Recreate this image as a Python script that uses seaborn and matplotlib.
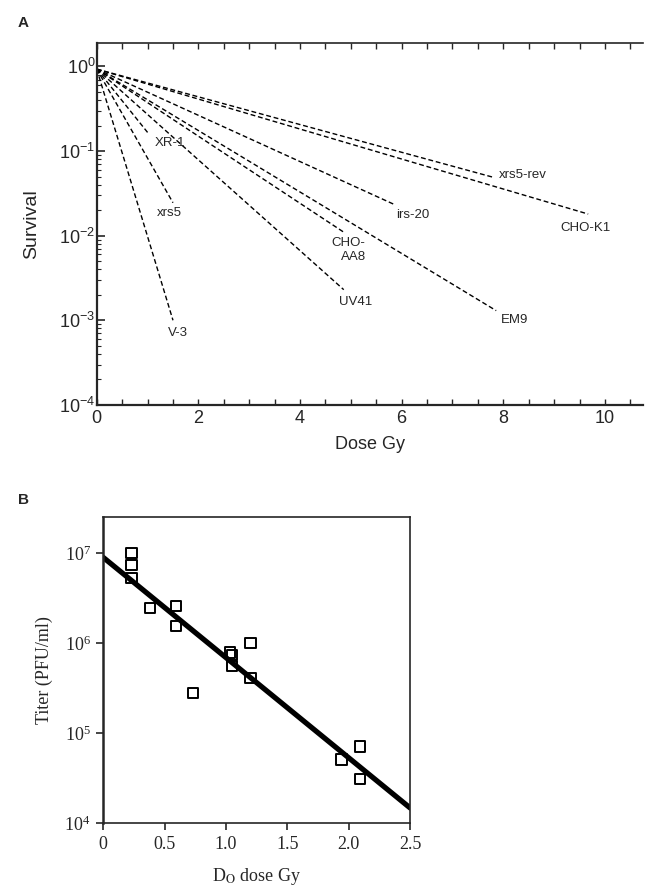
import numpy as np
import pandas as pd
import matplotlib
matplotlib.use('Agg')
import matplotlib.pyplot as plt
import seaborn as sns
from matplotlib.ticker import MultipleLocator, LogLocator, NullFormatter

sns.set_style('ticks')
plt.rcParams['font.family'] = ['Liberation Sans', 'DejaVu Sans']

# ---------- panel A: survival curves (start and end of each line) ----------
cell_lines = ['V-3', 'xrs5', 'XR-1', 'UV41', 'CHO-\nAA8', 'irs-20', 'EM9', 'xrs5-rev', 'CHO-K1']
start_dose = [0, 0, 0, 0, 0, 0, 0, 0, 0]
start_surv = [0.93, 0.93, 0.93, 0.93, 0.93, 0.93, 0.93, 0.93, 0.93]
end_dose = [1.5, 1.5, 1.0, 4.86, 4.86, 5.88, 7.86, 7.8, 9.67]
end_surv = [0.001, 0.0245, 0.166, 0.0023, 0.011, 0.023, 0.0013, 0.049, 0.018]
# label offsets from the line end (pixels)
label_dx = [5, -4, 22, 12, 5, 17, 18, 30, -3]
label_dy = [-13, -10, -11, -12, -18, -10, -9, 2, -14]

# ---------- panel B: titer vs D0 ----------
d0_dose = [0.23, 0.23, 0.23, 0.38, 0.59, 0.59, 0.73, 1.03, 1.05, 1.05,
           1.2, 1.2, 1.94, 2.09, 2.09]
titer = [1.0e7, 7.3e6, 5.3e6, 2.46e6, 2.57e6, 1.55e6, 2.77e5, 7.8e5, 7.3e5, 5.5e5,
         1.0e6, 4.1e5, 5.1e4, 7.1e4, 3.1e4]
fit_dose = [0.0, 2.5]
fit_titer = [8.9e6, 1.47e4]
b_xticks = [0, 0.5, 1.0, 1.5, 2.0, 2.5]
b_xticklabels = ['0', '0.5', '1.0', '1.5', '2.0', '2.5']

a_rows = []
for i, name in enumerate(cell_lines):
    a_rows.append({'line': name, 'dose': start_dose[i], 'survival': start_surv[i]})
    a_rows.append({'line': name, 'dose': end_dose[i], 'survival': end_surv[i]})
curves = pd.DataFrame(a_rows)

fig = plt.figure(figsize=(6.45, 8.86), dpi=100)
axA = fig.add_axes([0.150, 0.543, 0.847, 0.408])
axB = fig.add_axes([0.160, 0.071, 0.476, 0.3455])

# panel A
axA.set_yscale('log')
sns.lineplot(data=curves, x='dose', y='survival', units='line', estimator=None,
             color='black', lw=1.0, ls=(0, (3.5, 2)), ax=axA)
for i, name in enumerate(cell_lines):
    axA.annotate(name, (end_dose[i], end_surv[i]), xytext=(label_dx[i], label_dy[i]),
                 textcoords='offset pixels', ha='center', va='center', fontsize=9.5,
                 multialignment='right')
axA.set_xlim(0, 10.75)
axA.set_ylim(1e-4, 1.87)
axA.xaxis.set_major_locator(MultipleLocator(2))
axA.xaxis.set_minor_locator(MultipleLocator(0.5))
axA.yaxis.set_major_locator(LogLocator(base=10))
axA.yaxis.set_minor_locator(LogLocator(base=10, subs=np.arange(2, 10)))
axA.yaxis.set_minor_formatter(NullFormatter())
axA.tick_params(axis='x', which='both', direction='in', top=True, length=4, width=1)
axA.tick_params(axis='y', which='major', direction='in', length=6, width=1.2)
axA.tick_params(axis='y', which='minor', direction='in', length=3, width=0.8)
axA.tick_params(axis='y', labelsize=13, pad=1)
axA.tick_params(axis='x', labelsize=13, pad=4)
axA.spines['right'].set_visible(False)
axA.spines['left'].set_linewidth(1.6)
axA.spines['bottom'].set_linewidth(1.6)
axA.spines['top'].set_linewidth(1.2)
axA.set_xlabel('Dose Gy', fontsize=13, labelpad=6)
axA.set_ylabel('Survival', fontsize=14, labelpad=14)
fig.text(0.028, 0.974, 'A', fontsize=11, fontweight='bold', ha='left', va='center')

# panel B
axB.set_yscale('log')
sns.lineplot(x=fit_dose, y=fit_titer, color='black', lw=3.8, ax=axB)
sns.scatterplot(x=d0_dose, y=titer, marker='s', s=55, facecolors='none',
                edgecolor='black', linewidth=1.4, ax=axB, zorder=3)
axB.set_xlim(0, 2.5)
axB.set_ylim(1e4, 2.5e7)
axB.set_xticks(b_xticks)
axB.set_xticklabels(b_xticklabels)
axB.yaxis.set_major_locator(LogLocator(base=10))
axB.yaxis.set_minor_formatter(NullFormatter())
axB.tick_params(axis='both', which='major', direction='out', length=5, width=1.2,
                labelsize=13, labelfontfamily='Liberation Serif', pad=4)
axB.tick_params(axis='y', which='minor', length=0)
for side in ['top', 'right', 'bottom']:
    axB.spines[side].set_linewidth(1.2)
axB.spines['left'].set_linewidth(1.8)
axB.set_xlabel('D$_{\\mathrm{O}}$ dose Gy', fontsize=13, family='Liberation Serif', labelpad=10)
axB.set_ylabel('Titer (PFU/ml)', fontsize=13, family='Liberation Serif', labelpad=8)
axB.xaxis.label.set_math_fontfamily('stix')
fig.text(0.028, 0.436, 'B', fontsize=11, fontweight='bold', ha='left', va='center')

fig.savefig('out.png', dpi=100)
